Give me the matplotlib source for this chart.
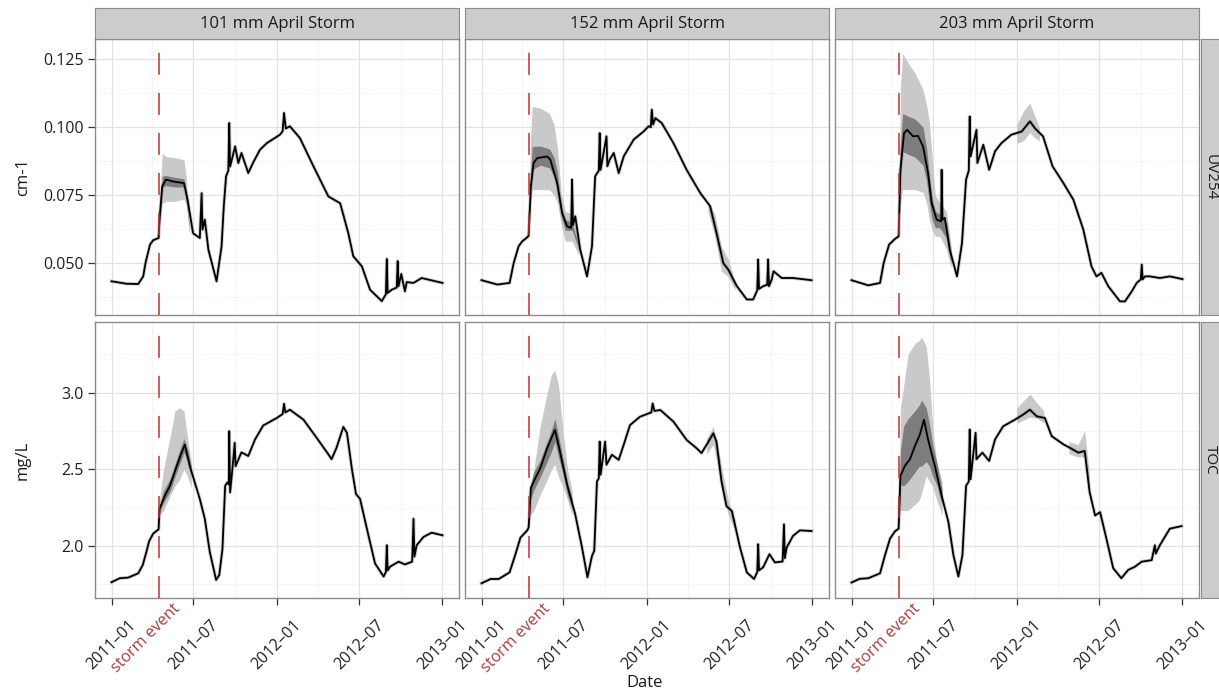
import numpy as np
import pandas as pd
import matplotlib
matplotlib.use("Agg")
import matplotlib.pyplot as plt
import matplotlib.ticker as mticker
import matplotlib.dates as mdates

plt.rcParams['font.family'] = ['Open Sans', 'DejaVu Sans']

# ---- data (days counted from 2011-01-01) ----
START = pd.Timestamp("2011-01-01")
storm_day = 104

storm_titles = ["101 mm April Storm", "152 mm April Storm", "203 mm April Storm"]
row_names = ["UV254", "TOC"]
row_units = ["cm-1", "mg/L"]

major_dates = ["2011-01-01", "2011-07-01", "2012-01-01", "2012-07-01", "2013-01-01"]
major_labels = ["2011\u201301", "2011\u201307", "2012\u201301", "2012\u201307", "2013\u201301"]
minor_dates = ["2011-04-01", "2011-10-01", "2012-04-01", "2012-10-01"]
uv_ticks = [0.050, 0.075, 0.100, 0.125]
uv_minor = [0.0375, 0.0625, 0.0875, 0.1125]
toc_ticks = [2.0, 2.5, 3.0]
toc_minor = [1.75, 2.25, 2.75, 3.25]

# UV254, 101 mm
uv101_day = [0, 33, 59, 70, 75, 85, 92, 104, 106, 112,
             120, 136, 160, 168, 180, 195, 199, 201, 206, 214,
             232, 243, 248, 253, 258, 260, 262, 273, 280, 287,
             302, 313, 328, 343, 372, 378, 381, 385, 394, 416,
             446, 479, 505, 523, 534, 553, 571, 597, 606, 608,
             610, 619, 630, 632, 634, 640, 648, 652, 667, 685,
             731]
uv101_val = [0.0433, 0.0424, 0.0423, 0.0451, 0.0500, 0.0568, 0.0584, 0.0592, 0.0660, 0.0782,
             0.0807, 0.0800, 0.0794, 0.0733, 0.0610, 0.0592, 0.0757, 0.0623, 0.0660, 0.0549,
             0.0433, 0.0561, 0.0709, 0.0819, 0.0840, 0.1015, 0.0855, 0.0929, 0.0868, 0.0905,
             0.0831, 0.0870, 0.0917, 0.0941, 0.0972, 0.0985, 0.1052, 0.0995, 0.1003, 0.0960,
             0.0856, 0.0745, 0.0720, 0.0610, 0.0525, 0.0488, 0.0402, 0.0360, 0.0385, 0.0515,
             0.0390, 0.0402, 0.0410, 0.0507, 0.0415, 0.0460, 0.0396, 0.0430, 0.0427, 0.0445,
             0.0427]
uv101_band_day = [104, 106, 112, 120, 140, 160, 166, 172]
uv101_out_lo = [0.0592, 0.0640, 0.0720, 0.0727, 0.0727, 0.0735, 0.0710, 0.0620]
uv101_out_hi = [0.0592, 0.0700, 0.0905, 0.0892, 0.0888, 0.0880, 0.0800, 0.0640]
uv101_in_lo = [0.0592, 0.0650, 0.0776, 0.0785, 0.0780, 0.0780, 0.0720, 0.0610]
uv101_in_hi = [0.0592, 0.0670, 0.0819, 0.0822, 0.0815, 0.0810, 0.0750, 0.0620]

# TOC, 101 mm
toc101_day = [0, 18, 37, 59, 69, 77, 83, 92, 104, 106,
              118, 129, 144, 155, 162, 173, 195, 206, 217, 231,
              238, 245, 251, 256, 259, 260, 262, 269, 272, 274,
              287, 302, 317, 335, 365, 378, 381, 384, 394, 424,
              453, 479, 486, 497, 512, 520, 531, 540, 549, 564,
              582, 601, 606, 608, 610, 615, 634, 648, 664, 667,
              669, 674, 689, 707, 731]
toc101_val = [1.763, 1.789, 1.793, 1.821, 1.875, 1.961, 2.030, 2.080, 2.108, 2.241,
              2.328, 2.392, 2.520, 2.610, 2.660, 2.520, 2.306, 2.177, 1.961, 1.778,
              1.810, 1.980, 2.392, 2.414, 2.400, 2.748, 2.349, 2.565, 2.672, 2.520,
              2.610, 2.586, 2.694, 2.785, 2.834, 2.860, 2.927, 2.870, 2.888, 2.823,
              2.705, 2.597, 2.565, 2.640, 2.776, 2.737, 2.500, 2.338, 2.306, 2.112,
              1.886, 1.800, 1.830, 2.004, 1.840, 1.864, 1.897, 1.879, 1.897, 2.177,
              1.930, 2.004, 2.058, 2.086, 2.069]
toc101_band_day = [104, 106, 115, 130, 140, 150, 160, 168, 176]
toc101_out_lo = [2.108, 2.20, 2.23, 2.33, 2.39, 2.43, 2.50, 2.45, 2.38]
toc101_out_hi = [2.108, 2.30, 2.50, 2.72, 2.88, 2.90, 2.88, 2.70, 2.55]
toc101_in_lo = [2.108, 2.22, 2.28, 2.36, 2.45, 2.53, 2.61, 2.55, 2.46]
toc101_in_hi = [2.108, 2.26, 2.36, 2.44, 2.53, 2.62, 2.70, 2.63, 2.52]

# UV254, 152 mm
uv152_day = [0, 35, 62, 71, 82, 90, 99, 104, 109, 115,
             123, 145, 152, 167, 178, 189, 198, 200, 202, 207,
             218, 233, 244, 251, 259, 261, 263, 276, 278, 283,
             292, 303, 314, 336, 358, 369, 374, 376, 379, 384,
             398, 424, 453, 483, 505, 519, 534, 545, 564, 586,
             600, 609, 611, 613, 622, 631, 633, 635, 641, 645,
             663, 688, 729]
uv152_val = [0.0437, 0.0421, 0.0427, 0.0500, 0.0562, 0.0580, 0.0592, 0.0600, 0.0782, 0.0868,
             0.0886, 0.0892, 0.0880, 0.0794, 0.0684, 0.0635, 0.0629, 0.0807, 0.0640, 0.0672,
             0.0549, 0.0451, 0.0562, 0.0819, 0.0840, 0.0978, 0.0843, 0.0966, 0.0856, 0.0880,
             0.0905, 0.0831, 0.0892, 0.0954, 0.0984, 0.1003, 0.1000, 0.1064, 0.1010, 0.1033,
             0.1015, 0.0941, 0.0843, 0.0758, 0.0709, 0.0611, 0.0500, 0.0476, 0.0415, 0.0366,
             0.0366, 0.0400, 0.0513, 0.0405, 0.0415, 0.0420, 0.0513, 0.0415, 0.0440, 0.0470,
             0.0445, 0.0445, 0.0437]
uv152_band_day = [104, 108, 112, 130, 150, 160, 168, 176, 185, 200, 215]
uv152_out_lo = [0.0600, 0.0720, 0.0770, 0.0770, 0.0770, 0.0750, 0.0720, 0.0640, 0.0580, 0.0580, 0.0530]
uv152_out_hi = [0.0600, 0.0950, 0.1076, 0.1070, 0.1050, 0.1010, 0.0920, 0.0760, 0.0690, 0.0680, 0.0580]
uv152_in_lo = [0.0600, 0.0760, 0.0843, 0.0860, 0.0850, 0.0820, 0.0770, 0.0670, 0.0620, 0.0620, 0.0550]
uv152_in_hi = [0.0600, 0.0820, 0.0929, 0.0930, 0.0920, 0.0890, 0.0830, 0.0710, 0.0660, 0.0650, 0.0560]
uv152_b2_day = [500, 515, 530, 545, 560]
uv152_b2_lo = [0.0690, 0.0600, 0.0470, 0.0450, 0.0400]
uv152_b2_hi = [0.0730, 0.0680, 0.0560, 0.0515, 0.0430]

# TOC, 152 mm
toc152_day = [0, 20, 38, 62, 75, 86, 101, 104, 109, 119,
              130, 145, 162, 170, 189, 207, 222, 234, 244, 249,
              255, 259, 261, 263, 273, 276, 288, 303, 314, 328,
              350, 369, 375, 378, 382, 395, 424, 453, 475, 486,
              497, 512, 519, 530, 541, 553, 571, 586, 602, 609,
              611, 613, 622, 636, 648, 665, 668, 670, 674, 688,
              703, 729]
toc152_val = [1.756, 1.784, 1.784, 1.827, 1.946, 2.054, 2.101, 2.119, 2.378, 2.443,
              2.508, 2.637, 2.756, 2.659, 2.400, 2.205, 1.989, 1.795, 1.935, 1.968,
              2.421, 2.440, 2.680, 2.464, 2.680, 2.529, 2.594, 2.561, 2.659, 2.788,
              2.842, 2.864, 2.870, 2.929, 2.880, 2.886, 2.810, 2.691, 2.637, 2.605,
              2.659, 2.734, 2.680, 2.421, 2.259, 2.227, 1.989, 1.827, 1.784, 1.830,
              2.011, 1.840, 1.860, 1.946, 1.892, 1.898, 2.140, 1.920, 1.989, 2.065,
              2.101, 2.097]
toc152_band_day = [104, 108, 115, 130, 145, 155, 162, 170, 180, 190, 200]
toc152_out_lo = [2.119, 2.20, 2.227, 2.335, 2.43, 2.50, 2.53, 2.45, 2.38, 2.30, 2.20]
toc152_out_hi = [2.119, 2.35, 2.486, 2.788, 3.00, 3.12, 3.145, 3.05, 2.75, 2.50, 2.36]
toc152_in_lo = [2.119, 2.30, 2.36, 2.45, 2.55, 2.62, 2.68, 2.58, 2.47, 2.33, 2.25]
toc152_in_hi = [2.119, 2.40, 2.48, 2.56, 2.68, 2.76, 2.83, 2.72, 2.57, 2.41, 2.31]
toc152_b2_day = [497, 512, 530, 545, 560]
toc152_b2_lo = [2.60, 2.66, 2.40, 2.20, 2.10]
toc152_b2_hi = [2.70, 2.78, 2.52, 2.30, 2.17]

# UV254, 203 mm
uv203_day = [0, 37, 63, 71, 83, 96, 104, 108, 116, 123,
             136, 147, 158, 169, 177, 188, 198, 199, 201, 206,
             217, 233, 244, 253, 259, 261, 263, 276, 278, 291,
             304, 317, 331, 353, 376, 394, 405, 423, 444, 468,
             490, 512, 530, 541, 552, 567, 593, 604, 619, 630,
             639, 641, 643, 648, 659, 681, 703, 731]
uv203_val = [0.0437, 0.0418, 0.0427, 0.0500, 0.0568, 0.0589, 0.0598, 0.0843, 0.0978, 0.0990,
             0.0966, 0.0968, 0.0929, 0.0831, 0.0721, 0.0660, 0.0653, 0.0843, 0.0660, 0.0666,
             0.0549, 0.0451, 0.0574, 0.0807, 0.0840, 0.1039, 0.0892, 0.0990, 0.0868, 0.0935,
             0.0843, 0.0911, 0.0941, 0.0972, 0.0984, 0.1021, 0.0996, 0.0966, 0.0856, 0.0794,
             0.0733, 0.0623, 0.0488, 0.0451, 0.0464, 0.0415, 0.0359, 0.0359, 0.0396, 0.0427,
             0.0440, 0.0494, 0.0440, 0.0451, 0.0451, 0.0445, 0.0451, 0.0441]
uv203_band_day = [104, 108, 113, 125, 140, 158, 166, 172, 178, 185, 195, 210, 220]
uv203_out_lo = [0.0598, 0.0720, 0.0770, 0.0770, 0.0770, 0.0760, 0.0720, 0.0660, 0.0620, 0.0598, 0.0598, 0.0550, 0.0480]
uv203_out_hi = [0.0598, 0.1150, 0.1272, 0.1235, 0.1200, 0.1137, 0.1080, 0.1015, 0.0890, 0.0750, 0.0720, 0.0690, 0.0560]
uv203_in_lo = [0.0598, 0.0820, 0.0910, 0.0900, 0.0890, 0.0860, 0.0800, 0.0720, 0.0660, 0.0630, 0.0630, 0.0590, 0.0500]
uv203_in_hi = [0.0598, 0.0940, 0.1050, 0.1040, 0.1030, 0.1000, 0.0920, 0.0820, 0.0740, 0.0690, 0.0680, 0.0650, 0.0540]
uv203_b2_day = [365, 380, 394, 405, 415]
uv203_b2_lo = [0.0940, 0.0950, 0.0980, 0.0960, 0.0950]
uv203_b2_hi = [0.1010, 0.1060, 0.1088, 0.1040, 0.1000]

# TOC, 203 mm
toc203_day = [0, 18, 37, 63, 74, 85, 96, 104, 108, 118,
              129, 140, 151, 160, 169, 184, 199, 214, 225, 236,
              245, 253, 259, 261, 263, 274, 276, 289, 304, 317,
              335, 361, 379, 394, 409, 427, 442, 468, 482, 501,
              515, 526, 538, 549, 563, 578, 596, 611, 626, 641,
              663, 670, 672, 681, 703, 729]
toc203_val = [1.761, 1.785, 1.789, 1.821, 1.940, 2.047, 2.095, 2.112, 2.457, 2.522,
              2.565, 2.651, 2.726, 2.823, 2.694, 2.522, 2.328, 2.155, 1.940, 1.800,
              1.940, 2.392, 2.420, 2.759, 2.435, 2.737, 2.565, 2.608, 2.554, 2.694,
              2.780, 2.823, 2.856, 2.888, 2.845, 2.834, 2.716, 2.662, 2.640, 2.608,
              2.619, 2.349, 2.198, 2.220, 2.047, 1.854, 1.789, 1.843, 1.864, 1.897,
              1.907, 2.004, 1.950, 2.004, 2.112, 2.129]
toc203_band_day = [104, 108, 115, 125, 140, 150, 155, 165, 172, 180, 188, 200]
toc203_out_lo = [2.112, 2.23, 2.23, 2.23, 2.27, 2.30, 2.35, 2.457, 2.42, 2.38, 2.30, 2.20]
toc203_out_hi = [2.112, 2.90, 3.04, 3.25, 3.32, 3.34, 3.36, 3.30, 3.10, 2.75, 2.55, 2.42]
toc203_in_lo = [2.112, 2.40, 2.39, 2.42, 2.48, 2.52, 2.52, 2.55, 2.52, 2.45, 2.40, 2.27]
toc203_in_hi = [2.112, 2.62, 2.78, 2.83, 2.88, 2.92, 2.95, 2.90, 2.80, 2.65, 2.55, 2.37]
toc203_b2_day = [365, 394, 410, 425]
toc203_b2_lo = [2.80, 2.84, 2.83, 2.80]
toc203_b2_hi = [2.90, 2.99, 2.93, 2.88]
toc203_b3_day = [480, 500, 515, 525]
toc203_b3_lo = [2.60, 2.58, 2.58, 2.34]
toc203_b3_hi = [2.68, 2.66, 2.75, 2.48]


def to_dates(days):
    return START + pd.to_timedelta(np.asarray(days, dtype=float), unit="D")


# panel table: [row][col]
panels = [
    [
        dict(day=uv101_day, val=uv101_val, bday=uv101_band_day, olo=uv101_out_lo, ohi=uv101_out_hi,
             ilo=uv101_in_lo, ihi=uv101_in_hi, extra=[]),
        dict(day=uv152_day, val=uv152_val, bday=uv152_band_day, olo=uv152_out_lo, ohi=uv152_out_hi,
             ilo=uv152_in_lo, ihi=uv152_in_hi, extra=[(uv152_b2_day, uv152_b2_lo, uv152_b2_hi)]),
        dict(day=uv203_day, val=uv203_val, bday=uv203_band_day, olo=uv203_out_lo, ohi=uv203_out_hi,
             ilo=uv203_in_lo, ihi=uv203_in_hi, extra=[(uv203_b2_day, uv203_b2_lo, uv203_b2_hi)]),
    ],
    [
        dict(day=toc101_day, val=toc101_val, bday=toc101_band_day, olo=toc101_out_lo, ohi=toc101_out_hi,
             ilo=toc101_in_lo, ihi=toc101_in_hi, extra=[]),
        dict(day=toc152_day, val=toc152_val, bday=toc152_band_day, olo=toc152_out_lo, ohi=toc152_out_hi,
             ilo=toc152_in_lo, ihi=toc152_in_hi, extra=[(toc152_b2_day, toc152_b2_lo, toc152_b2_hi)]),
        dict(day=toc203_day, val=toc203_val, bday=toc203_band_day, olo=toc203_out_lo, ohi=toc203_out_hi,
             ilo=toc203_in_lo, ihi=toc203_in_hi,
             extra=[(toc203_b2_day, toc203_b2_lo, toc203_b2_hi), (toc203_b3_day, toc203_b3_lo, toc203_b3_hi)]),
    ],
]

# ---- layout in pixels ----
W, H = 1219, 694
fig = plt.figure(figsize=(W / 100, H / 100), dpi=100)


def rect(x, y, w, h):
    return [x / W, 1 - (y + h) / H, w / W, h / H]


col_left = [95, 465, 835]
row_top = [39, 322]
pw, ph = 364, 276
edge = "#8c8c8c"
strip_bg = "#cccccc"
storm_red = "#c0302f"

xlim = (START - pd.Timedelta(days=36.5), START + pd.Timedelta(days=731 + 36.5))
ylims = [(0.0309, 0.1324), (1.66, 3.46)]
storm_date = START + pd.Timedelta(days=storm_day)
storm_num = mdates.date2num(storm_date.to_pydatetime())

for r in range(2):
    for c in range(3):
        p = panels[r][c]
        ax = fig.add_axes(rect(col_left[c], row_top[r], pw, ph))
        ax.set_facecolor("white")
        for s in ax.spines.values():
            s.set_color(edge)
            s.set_linewidth(1.0)
        ax.set_xlim(xlim)
        ax.set_ylim(ylims[r])

        ax.set_xticks(pd.to_datetime(major_dates))
        ax.set_xticks(pd.to_datetime(minor_dates), minor=True)
        if r == 0:
            ax.set_yticks(uv_ticks)
            ax.set_yticks(uv_minor, minor=True)
            ax.yaxis.set_major_formatter(mticker.FormatStrFormatter("%.3f"))
        else:
            ax.set_yticks(toc_ticks)
            ax.set_yticks(toc_minor, minor=True)
            ax.yaxis.set_major_formatter(mticker.FormatStrFormatter("%.1f"))
        ax.grid(which="major", color="#e2e2e2", lw=0.9)
        ax.grid(which="minor", color="#ececec", lw=0.6, linestyle=(0, (2, 1.5)))
        ax.set_axisbelow(True)
        ax.tick_params(which="minor", length=0)
        ax.tick_params(which="major", direction="out", length=5, width=0.9,
                       color="#333333", labelsize=11.5, labelcolor="#1f1f1f")

        if r == 1:
            ax.set_xticklabels(major_labels, rotation=45, ha="center")
            ax.tick_params(axis="x", pad=9)
            ax.annotate("storm event", xy=(storm_num, 0), xycoords=ax.get_xaxis_transform(),
                        xytext=(-13, -40), textcoords="offset pixels", rotation=45,
                        ha="center", va="center", color="#b03a3a", fontsize=11.5,
                        annotation_clip=False)
        else:
            ax.tick_params(axis="x", length=0, labelbottom=False)
        if c != 0:
            ax.tick_params(axis="y", length=0, labelleft=False)
        else:
            ax.tick_params(axis="y", pad=3)

        # uncertainty bands
        bd = to_dates(p["bday"])
        ax.fill_between(bd, p["olo"], p["ohi"], color="#c9c9c9", lw=0, zorder=2)
        ax.fill_between(bd, p["ilo"], p["ihi"], color="#7d7d7d", lw=0, zorder=3)
        for ed, elo, ehi in p["extra"]:
            ax.fill_between(to_dates(ed), elo, ehi, color="#c9c9c9", lw=0, zorder=2)

        d = to_dates(p["day"])
        ax.plot(d, p["val"], color="#777777", lw=2.6, alpha=0.35, zorder=4)
        ax.plot(d, p["val"], color="black", lw=1.3, zorder=5)

        ax.axvline(storm_num, color=storm_red, lw=1.1, dashes=(14.4, 11.8), zorder=6)

        # facet strips
        if r == 0:
            sax = fig.add_axes(rect(col_left[c], 8, pw, 31))
            sax.set_facecolor(strip_bg)
            sax.set_xticks([])
            sax.set_yticks([])
            for s in sax.spines.values():
                s.set_color(edge)
            sax.text(0.5, 0.5, storm_titles[c], ha="center", va="center",
                     fontsize=12, color="#1a1a1a", transform=sax.transAxes)
        if c == 2:
            rax = fig.add_axes(rect(1201, row_top[r], 32, ph))
            rax.set_facecolor(strip_bg)
            rax.set_xticks([])
            rax.set_yticks([])
            for s in rax.spines.values():
                s.set_color(edge)
            # label sits near the right edge of the figure, as in the reference
            fig.text(1210 / W, 1 - (row_top[r] + ph / 2) / H, row_names[r],
                     ha="center", va="center", rotation=270,
                     fontsize=11, color="#1a1a1a")

# axis titles
fig.text(23 / W, 1 - (row_top[0] + ph / 2) / H, row_units[0], rotation=90,
         ha="center", va="center", fontsize=12, color="#1a1a1a")
fig.text(23 / W, 1 - (row_top[1] + ph / 2) / H, row_units[1], rotation=90,
         ha="center", va="center", fontsize=12, color="#1a1a1a")
fig.text(645 / W, 1 - 683 / H, "Date", ha="center", va="center",
         fontsize=12, color="#1a1a1a")

fig.savefig("out.png", dpi=100)
